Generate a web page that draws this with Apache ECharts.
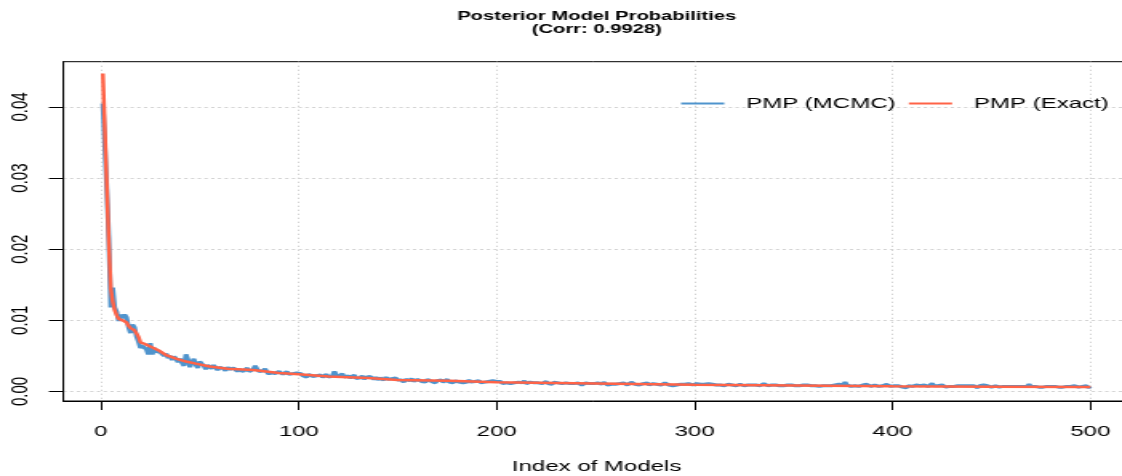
<!DOCTYPE html>
<html>
<head>
<meta charset="utf-8">
<script src="https://cdn.jsdelivr.net/npm/echarts@6/dist/echarts.min.js"></script>
<style>
html,body{margin:0;padding:0;background:#fff;overflow:hidden;}
#c{width:701px;height:476px;transform:scaleX(1.60057);transform-origin:0 0;}
</style>
</head>
<body>
<div id="c"></div>
<script>
// PMP from MCMC, model index 1..500
const pmpMcmc = [
0.0405,0.0345,0.0285,0.0215,0.0118,0.0146,0.0118,0.0112,0.0099,0.0108,
0.0103,0.0108,0.0104,0.0090,0.0082,0.0094,0.0090,0.0077,0.0070,0.0061,
0.0064,0.0066,0.0059,0.0052,0.0068,0.0052,0.0061,0.0056,0.0058,0.0055,
0.0057,0.0050,0.0053,0.0047,0.0050,0.0044,0.0049,0.0046,0.0041,0.0046,
0.0040,0.0036,0.0052,0.0045,0.0034,0.0041,0.0046,0.0037,0.0033,0.0042,
0.0039,0.0036,0.0031,0.0037,0.0035,0.0032,0.0037,0.0035,0.0030,0.0034,
0.0036,0.0032,0.0029,0.0034,0.0031,0.0029,0.0033,0.0035,0.0028,0.0031,
0.0032,0.0028,0.0030,0.0033,0.0028,0.0027,0.0031,0.0036,0.0031,0.0028,
0.0026,0.0029,0.0032,0.0027,0.0024,0.0027,0.0029,0.0025,0.0024,0.0028,
0.0027,0.0024,0.0025,0.0028,0.0024,0.0022,0.0025,0.0023,0.0026,0.0024,
0.0025,0.0022,0.0023,0.0020,0.0024,0.0025,0.0021,0.0019,0.0022,0.0021,
0.0023,0.0020,0.0021,0.0024,0.0020,0.0019,0.0022,0.0028,0.0023,0.0020,
0.0021,0.0025,0.0020,0.0018,0.0022,0.0019,0.0021,0.0023,0.0018,0.0020,
0.0019,0.0022,0.0017,0.0020,0.0018,0.0021,0.0019,0.0017,0.0020,0.0016,
0.0019,0.0018,0.0016,0.0020,0.0017,0.0015,0.0018,0.0017,0.0019,0.0016,
0.0018,0.0016,0.0013,0.0017,0.0016,0.0015,0.0018,0.0014,0.0016,0.0017,
0.0015,0.0014,0.0016,0.0013,0.0017,0.0015,0.0014,0.0016,0.0012,0.0015,
0.0014,0.0016,0.0013,0.0015,0.0017,0.0013,0.0014,0.0012,0.0015,0.0014,
0.0013,0.0015,0.0012,0.0014,0.0013,0.0016,0.0013,0.0012,0.0014,0.0013,
0.0015,0.0012,0.0014,0.0013,0.0011,0.0014,0.0012,0.0015,0.0013,0.0014,
0.0012,0.0014,0.0011,0.0013,0.0012,0.0014,0.0011,0.0013,0.0012,0.0010,
0.0013,0.0011,0.0012,0.0015,0.0011,0.0012,0.0013,0.0011,0.0012,0.0010,
0.0012,0.0013,0.0011,0.0012,0.0014,0.0011,0.0012,0.0010,0.0013,0.0011,
0.0012,0.0014,0.0011,0.0013,0.0012,0.0010,0.0011,0.0013,0.0011,0.0010,
0.0012,0.0011,0.0009,0.0011,0.0012,0.0010,0.0011,0.0009,0.0011,0.0010,
0.0012,0.0011,0.0010,0.0013,0.0011,0.0009,0.0011,0.0010,0.0012,0.0010,
0.0009,0.0011,0.0010,0.0012,0.0011,0.0009,0.0010,0.0013,0.0011,0.0010,
0.0011,0.0009,0.0010,0.0011,0.0010,0.0012,0.0009,0.0010,0.0011,0.0009,
0.0010,0.0011,0.0009,0.0010,0.0012,0.0010,0.0009,0.0011,0.0008,0.0010,
0.0009,0.0011,0.0010,0.0008,0.0010,0.0009,0.0011,0.0010,0.0009,0.0010,
0.0011,0.0009,0.0010,0.0008,0.0010,0.0009,0.0011,0.0009,0.0010,0.0008,
0.0009,0.0011,0.0009,0.0010,0.0008,0.0009,0.0010,0.0012,0.0009,0.0010,
0.0008,0.0009,0.0010,0.0009,0.0008,0.0010,0.0009,0.0011,0.0009,0.0008,
0.0009,0.0010,0.0008,0.0009,0.0011,0.0009,0.0008,0.0010,0.0009,0.0008,
0.0009,0.0010,0.0008,0.0009,0.0008,0.0010,0.0009,0.0008,0.0009,0.0010,
0.0008,0.0009,0.0008,0.0010,0.0009,0.0008,0.0009,0.0011,0.0008,0.0009,
0.0008,0.0009,0.0007,0.0009,0.0008,0.0010,0.0008,0.0009,0.0008,0.0007,
0.0009,0.0008,0.0010,0.0008,0.0009,0.0013,0.0009,0.0008,0.0007,0.0009,
0.0008,0.0009,0.0007,0.0008,0.0009,0.0008,0.0010,0.0008,0.0007,0.0008,
0.0009,0.0008,0.0007,0.0009,0.0008,0.0009,0.0010,0.0008,0.0007,0.0009,
0.0008,0.0006,0.0008,0.0007,0.0006,0.0007,0.0005,0.0008,0.0009,0.0007,
0.0008,0.0009,0.0007,0.0008,0.0006,0.0009,0.0008,0.0007,0.0008,0.0011,
0.0008,0.0007,0.0008,0.0006,0.0009,0.0008,0.0006,0.0008,0.0007,0.0008,
0.0007,0.0009,0.0008,0.0007,0.0008,0.0010,0.0008,0.0007,0.0008,0.0007,
0.0008,0.0007,0.0005,0.0008,0.0007,0.0009,0.0007,0.0008,0.0007,0.0006,
0.0007,0.0008,0.0007,0.0006,0.0008,0.0007,0.0009,0.0007,0.0006,0.0007,
0.0008,0.0007,0.0006,0.0007,0.0008,0.0007,0.0006,0.0007,0.0010,0.0007,
0.0006,0.0007,0.0008,0.0006,0.0007,0.0006,0.0008,0.0007,0.0006,0.0007,
0.0006,0.0007,0.0008,0.0006,0.0007,0.0006,0.0005,0.0007,0.0006,0.0007,
0.0006,0.0008,0.0007,0.0006,0.0005,0.0007,0.0006,0.0008,0.0005,0.0007
];

// Exact PMP (smooth curve), read at these model indices
const exactIndex = [1,2,3,4,5,6,7,8,9,11,13,14,15,17,18,19,20,22,25,29,33,38,43,48,55,64,77,90,100,115,135,150,176,200,250,300,350,400,450,500];
const exactPmp = [0.0447,0.0370,0.0290,0.0210,0.0145,0.0126,0.0114,0.0107,0.0102,0.0100,0.0097,0.0092,0.0089,0.0086,0.0084,0.0077,0.0069,0.0067,0.0063,0.0058,0.0051,0.0046,0.0042,0.0039,0.0035,0.0032,0.0030,0.0026,0.0024,0.0021,0.0019,0.0016,0.0015,0.00127,0.0011,0.00094,0.00083,0.00072,0.00067,0.00062];

const seriesNames = ['PMP (MCMC)', 'PMP (Exact)'];
const xTicks = [0,100,200,300,400,500];
const yTicks = [0,0.01,0.02,0.03,0.04];

const FONT = 'Liberation Sans';
const BLUE = '#4F94CD';
const RED = '#FF6347';

const chart = echarts.init(document.getElementById('c'), null, {renderer:'canvas'});
chart.setOption({
  animation: false,
  backgroundColor: '#fff',
  title: {
    text: 'Posterior Model Probabilities\n(Corr: 0.9928)',
    left: 372.8, top: 9.5, textAlign: 'center', padding: 0,
    textStyle: {fontFamily: FONT, fontSize: 12.6, fontWeight: 'bold', lineHeight: 13.5, color: '#000'}
  },
  legend: {
    left: 425.5, top: 96, padding: 0,
    itemWidth: 27, itemHeight: 2, itemGap: 8.3, icon: 'rect',
    textStyle: {fontFamily: FONT, fontSize: 15, color: '#000', padding: [0,0,0,8.7]},
    data: seriesNames
  },
  grid: {
    left: 39.55, top: 61.7, width: 666.4, height: 339.3,
    outerBoundsMode: 'none', containLabel: false,
    show: true, borderColor: '#000', borderWidth: 1, backgroundColor: 'transparent'
  },
  xAxis: {
    type: 'value', min: -18.96, max: 519.96,
    name: 'Index of Models', nameLocation: 'middle', nameGap: 58,
    nameTextStyle: {fontFamily: FONT, fontSize: 15, color: '#000'},
    axisLine: {show: true, onZero: false, lineStyle: {color: '#000', width: 1}},
    axisTick: {show: true, length: 9, customValues: xTicks, lineStyle: {color: '#000', width: 1}},
    axisLabel: {customValues: xTicks, margin: 23, fontFamily: FONT, fontSize: 15, color: '#000'},
    splitLine: {show: true, lineStyle: {color: '#d3d3d3', width: 1, type: [1.3, 2.7]}}
  },
  yAxis: {
    type: 'value', min: -0.00135, max: 0.04637,
    axisLine: {show: true, onZero: false, lineStyle: {color: '#000', width: 1}},
    axisTick: {show: true, length: 9, customValues: yTicks, lineStyle: {color: '#000', width: 1}},
    axisLabel: {customValues: yTicks, rotate: 90, margin: 19, fontFamily: FONT, fontSize: 15, color: '#000',
      formatter: v => v.toFixed(2)},
    splitLine: {show: true, lineStyle: {color: '#d3d3d3', width: 1, type: [2, 2.2]}}
  },
  series: [
    {
      name: seriesNames[0], type: 'line', symbol: 'none', showSymbol: false,
      data: pmpMcmc.map((v, i) => [i + 1, v]),
      lineStyle: {color: BLUE, width: 3}, itemStyle: {color: BLUE}, z: 2
    },
    {
      name: seriesNames[1], type: 'line', symbol: 'none', showSymbol: false,
      data: exactIndex.map((x, i) => [x, exactPmp[i]]),
      lineStyle: {color: RED, width: 2.5}, itemStyle: {color: RED}, z: 3
    }
  ]
});
</script>
</body>
</html>
